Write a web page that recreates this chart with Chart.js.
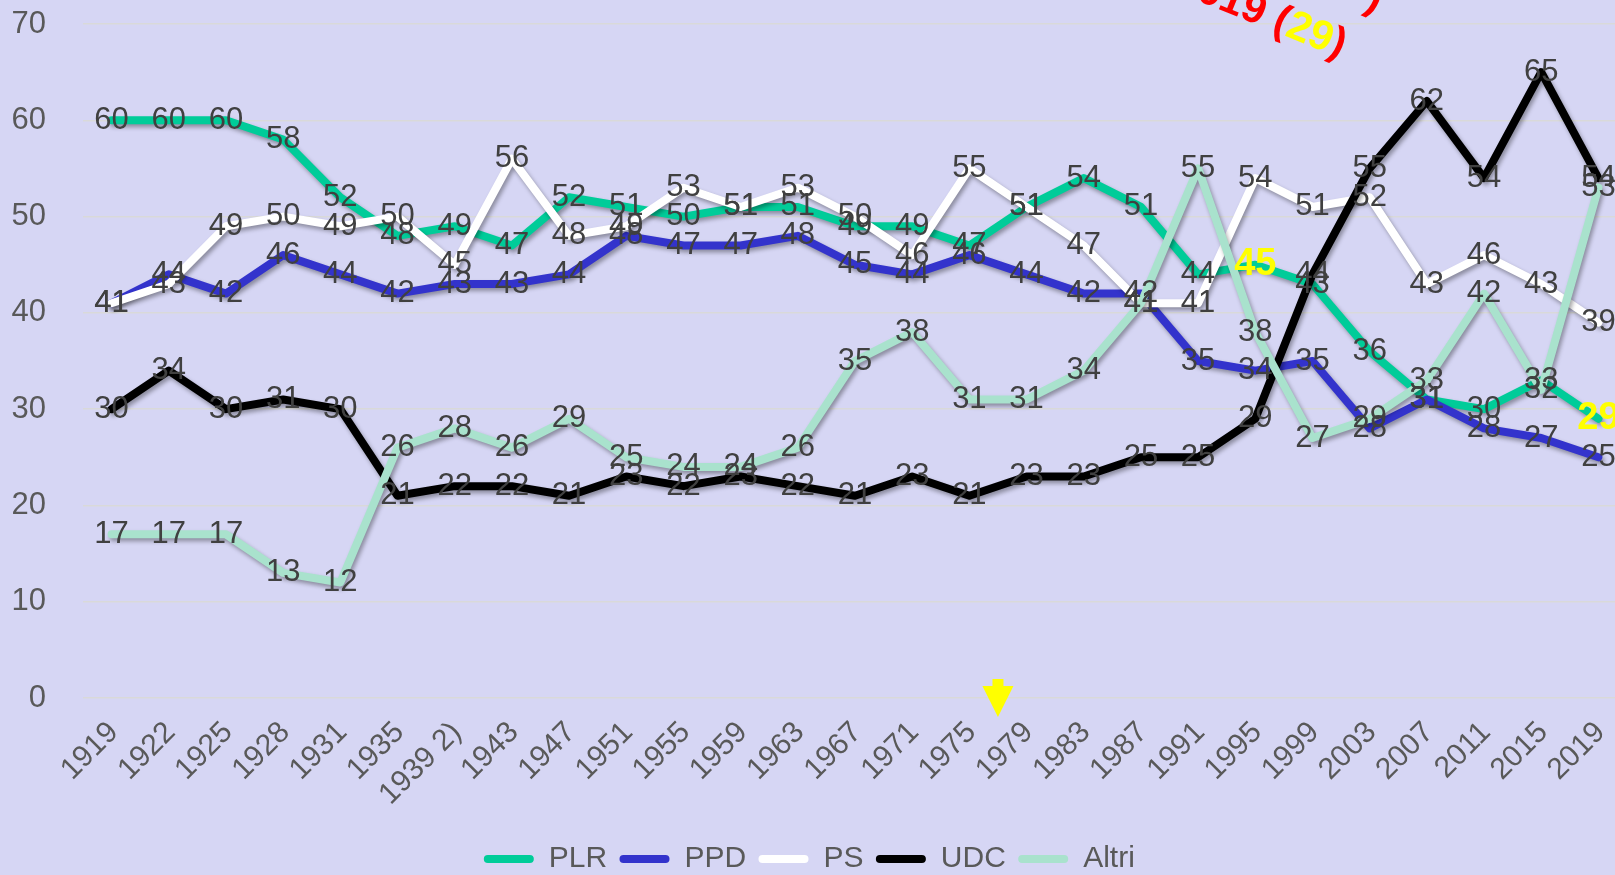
<!DOCTYPE html>
<html>
<head>
<meta charset="utf-8">
<script src="https://cdn.jsdelivr.net/npm/chart.js@4.4.0/dist/chart.umd.min.js"></script>
<style>
  html, body { margin: 0; padding: 0; overflow: hidden; background: #D6D6F4; }
  #wrap { width: 1640px; height: 884px; }
</style>
</head>
<body>
<div id="wrap"><canvas id="chart" width="1640" height="884"></canvas></div>
<script>
const years = ['1919', '1922', '1925', '1928', '1931', '1935', '1939 2)', '1943', '1947', '1951',
  '1955', '1959', '1963', '1967', '1971', '1975', '1979', '1983', '1987', '1991',
  '1995', '1999', '2003', '2007', '2011', '2015', '2019'];

const plr   = [60, 60, 60, 58, 52, 48, 49, 47, 52, 51, 50, 51, 51, 49, 49, 47, 51, 54, 51, 44, 45, 43, 36, 31, 30, 33, 29];
const ppd   = [41, 44, 42, 46, 44, 42, 43, 43, 44, 48, 47, 47, 48, 45, 44, 46, 44, 42, 42, 35, 34, 35, 28, 31, 28, 27, 25];
const ps    = [41, 43, 49, 50, 49, 50, 45, 56, 48, 49, 53, 51, 53, 50, 46, 55, 51, 47, 41, 41, 54, 51, 52, 43, 46, 43, 39];
const udc   = [30, 34, 30, 31, 30, 21, 22, 22, 21, 23, 22, 23, 22, 21, 23, 21, 23, 23, 25, 25, 29, 44, 55, 62, 54, 65, 54];
const altri = [17, 17, 17, 13, 12, 26, 28, 26, 29, 25, 24, 24, 26, 35, 38, 31, 31, 34, 41, 55, 38, 27, 29, 33, 42, 32, 53];

// PLR values shown in bold yellow
const plrHighlight = ['1995', '2019'];

const FONT = "'Liberation Sans', Arial, sans-serif";

// Excel-like soft shadow under each line
const lineShadow = {
  id: 'lineShadow',
  beforeDatasetDraw(chart) {
    const c = chart.ctx;
    c.save();
    c.shadowColor = 'rgba(0,0,0,0.35)';
    c.shadowBlur = 4;
    c.shadowOffsetX = 2;
    c.shadowOffsetY = 3;
  },
  afterDatasetDraw(chart) {
    chart.ctx.restore();
  }
};

const valueLabels = {
  id: 'valueLabels',
  afterDatasetsDraw(chart) {
    const ctx = chart.ctx;
    ctx.save();
    ctx.textAlign = 'center';
    ctx.textBaseline = 'middle';
    chart.data.datasets.forEach((ds, di) => {
      const meta = chart.getDatasetMeta(di);
      meta.data.forEach((pt, i) => {
        const special = di === 0 && plrHighlight.includes(years[i]);
        ctx.font = special ? `bold 38px ${FONT}` : `31px ${FONT}`;
        ctx.fillStyle = special ? '#FFFF00' : '#404040';
        ctx.fillText(String(ds.data[i]), pt.x, pt.y);
      });
    });
    ctx.restore();
  }
};

const extras = {
  id: 'extras',
  afterDraw(chart) {
    const ctx = chart.ctx;
    const x = chart.scales.x;
    const y = chart.scales.y;

    // yellow arrow between 1975 and 1979
    const ax = (x.getPixelForValue(15) + x.getPixelForValue(16)) / 2;
    const ay = y.getPixelForValue(0);
    ctx.save();
    ctx.fillStyle = '#FFFF00';
    ctx.fillRect(ax - 5.5, ay - 19, 11, 8);
    ctx.beginPath();
    ctx.moveTo(ax - 15.5, ay - 12);
    ctx.lineTo(ax + 15.5, ay - 12);
    ctx.lineTo(ax, ay + 19);
    ctx.closePath();
    ctx.fill();
    ctx.restore();

    // rotated red note, cut by the top edge
    ctx.save();
    ctx.translate(1340, 58);
    ctx.rotate(22 * Math.PI / 180);
    ctx.font = `bold 42px ${FONT}`;
    ctx.textAlign = 'right';
    ctx.textBaseline = 'alphabetic';
    ctx.fillStyle = '#FF0000';
    ctx.fillText(')', 0, 0);
    const w1 = ctx.measureText(')').width;
    ctx.fillStyle = '#FFFF00';
    ctx.fillText('29', -w1, 0);
    const w2 = ctx.measureText('29').width;
    ctx.fillStyle = '#FF0000';
    ctx.fillText('2019 (', -w1 - w2, 0);
    ctx.fillText(')', 17, -56);
    ctx.restore();
  }
};

const mk = (label, data, color, order) => ({
  label, data, order,
  borderColor: color,
  backgroundColor: color,
  borderWidth: 8,
  pointRadius: 0,
  tension: 0,
  borderJoinStyle: 'round',
  borderCapStyle: 'round'
});

new Chart(document.getElementById('chart').getContext('2d'), {
  type: 'line',
  data: {
    labels: years,
    datasets: [
      mk('PLR', plr, '#00CC99', 5),
      mk('PPD', ppd, '#3333CC', 4),
      mk('PS', ps, '#FFFFFF', 3),
      mk('UDC', udc, '#000000', 2),
      mk('Altri', altri, '#A9E2CD', 1)
    ]
  },
  options: {
    responsive: false,
    animation: false,
    events: [],
    layout: { padding: { top: 24, right: 13, left: 0, bottom: 0 } },
    scales: {
      x: {
        offset: true,
        grid: { display: false },
        border: { display: false },
        ticks: {
          color: '#595959',
          font: { family: FONT, size: 30 },
          minRotation: 45,
          maxRotation: 45,
          autoSkip: false,
          padding: 9,
          labelOffset: 2
        },
        afterFit(s) { s.height = 142; }
      },
      y: {
        min: 0,
        max: 70,
        ticks: {
          stepSize: 10,
          color: '#595959',
          font: { family: FONT, size: 31 },
          padding: 37
        },
        grid: { color: '#D9D9D9', lineWidth: 1.5, drawTicks: false },
        border: { display: false },
        afterFit(s) {
          s.width = 83;
          s.paddingTop = 10;
          s.paddingBottom = 10;
        }
      }
    },
    plugins: {
      tooltip: { enabled: false },
      legend: {
        position: 'bottom',
        labels: {
          color: '#595959',
          font: { family: FONT, size: 30 },
          boxWidth: 50,
          boxHeight: 8,
          useBorderRadius: true,
          borderRadius: 4,
          padding: 4,
          sort: (a, b) => a.datasetIndex - b.datasetIndex,
          generateLabels(chart) {
            const items = Chart.defaults.plugins.legend.labels.generateLabels(chart);
            items.forEach(it => { it.lineWidth = 0; it.text = it.text + ' '; });
            return items;
          }
        }
      }
    }
  },
  plugins: [lineShadow, valueLabels, extras]
});
</script>
</body>
</html>
